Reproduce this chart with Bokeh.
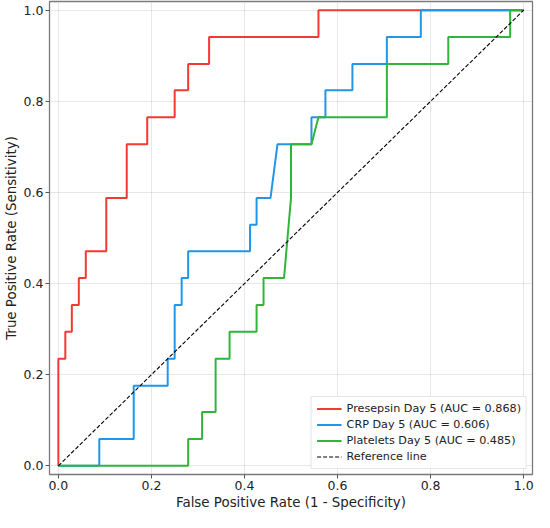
from bokeh.plotting import figure
from bokeh.models import Legend, LegendItem, FixedTicker, Range1d
from bokeh.embed import file_html
from bokeh.resources import INLINE

# ---- data ----
presepsin_fpr = [0, 0, 0.015, 0.015, 0.029, 0.029, 0.044, 0.044, 0.059, 0.059, 0.103, 0.103,
                 0.147, 0.147, 0.191, 0.191, 0.25, 0.25, 0.279, 0.279, 0.324, 0.324, 0.559, 0.559, 1.0]
presepsin_tpr = [0, 0.235, 0.235, 0.294, 0.294, 0.353, 0.353, 0.412, 0.412, 0.471, 0.471, 0.588,
                 0.588, 0.706, 0.706, 0.765, 0.765, 0.824, 0.824, 0.882, 0.882, 0.941, 0.941, 1.0, 1.0]

crp_fpr = [0, 0.088, 0.088, 0.162, 0.162, 0.235, 0.235, 0.25, 0.25, 0.265, 0.265, 0.279, 0.279,
           0.412, 0.412, 0.426, 0.426, 0.456, 0.471, 0.544, 0.544, 0.574, 0.574, 0.632, 0.632,
           0.706, 0.706, 0.779, 0.779, 1.0]
crp_tpr = [0, 0, 0.059, 0.059, 0.176, 0.176, 0.235, 0.235, 0.353, 0.353, 0.412, 0.412, 0.471,
           0.471, 0.529, 0.529, 0.588, 0.588, 0.706, 0.706, 0.765, 0.765, 0.824, 0.824, 0.882,
           0.882, 0.941, 0.941, 1.0, 1.0]

platelets_fpr = [0, 0.279, 0.279, 0.309, 0.309, 0.338, 0.338, 0.368, 0.368, 0.426, 0.426, 0.441,
                 0.441, 0.485, 0.5, 0.5, 0.544, 0.559, 0.706, 0.706, 0.838, 0.838, 0.971, 0.971, 1.0]
platelets_tpr = [0, 0, 0.059, 0.059, 0.118, 0.118, 0.235, 0.235, 0.294, 0.294, 0.353, 0.353,
                 0.412, 0.412, 0.588, 0.706, 0.706, 0.765, 0.765, 0.882, 0.882, 0.941, 0.941, 1.0, 1.0]

reference_x = [0, 1]
reference_y = [0, 1]

series_labels = ["Presepsin Day 5 (AUC = 0.868)", "CRP Day 5 (AUC = 0.606)",
                 "Platelets Day 5 (AUC = 0.485)", "Reference line"]
tick_values = [0.0, 0.2, 0.4, 0.6, 0.8, 1.0]
tick_labels = {0.0: "0.0", 0.2: "0.2", 0.4: "0.4", 0.6: "0.6", 0.8: "0.8", 1.0: "1.0"}

FONT = "DejaVu Sans"

p = figure(width=534, height=512, output_backend="svg", toolbar_location=None,
           x_range=Range1d(-0.019, 1.019), y_range=Range1d(-0.019, 1.019),
           min_border_left=0, min_border_right=2, min_border_top=1, min_border_bottom=0)

p.outline_line_color = "#7a7a7a"
p.outline_line_width = 1.3
p.background_fill_color = "white"
p.border_fill_color = "white"

for ax in (p.xaxis[0], p.yaxis[0]):
    ax.ticker = FixedTicker(ticks=tick_values)
    ax.major_label_overrides = tick_labels
    ax.minor_tick_line_color = None
    ax.axis_line_color = None
    ax.major_tick_line_color = "#555555"
    ax.major_tick_out = 4
    ax.major_tick_in = 0
    ax.major_label_text_font = FONT
    ax.major_label_text_font_size = "12.5px"
    ax.major_label_text_color = "#222222"
    ax.axis_label_text_font = FONT
    ax.axis_label_text_font_size = "13.4px"
    ax.axis_label_text_font_style = "normal"
    ax.axis_label_text_color = "#222222"
    ax.major_label_standoff = 2
    ax.axis_label_standoff = 2

p.xaxis.axis_label = "False Positive Rate (1 - Specificity)"
p.yaxis.axis_label = "True Positive Rate (Sensitivity)"

p.grid.grid_line_color = "#b0b0b0"
p.grid.grid_line_alpha = 0.3
p.xgrid.ticker = FixedTicker(ticks=tick_values)
p.ygrid.ticker = FixedTicker(ticks=tick_values)

r1 = p.line(presepsin_fpr, presepsin_tpr, line_color="#f23a32", line_width=2)
r2 = p.line(crp_fpr, crp_tpr, line_color="#2196e8", line_width=2)
r3 = p.line(platelets_fpr, platelets_tpr, line_color="#2fb53a", line_width=2)
r4 = p.line(reference_x, reference_y, line_color="black", line_width=1.1, line_dash="4 2")

legend = Legend(items=[LegendItem(label=series_labels[0], renderers=[r1]),
                       LegendItem(label=series_labels[1], renderers=[r2]),
                       LegendItem(label=series_labels[2], renderers=[r3]),
                       LegendItem(label=series_labels[3], renderers=[r4])],
                location="bottom_right")
legend.label_text_font = FONT
legend.label_text_font_size = "11.2px"
legend.label_text_color = "#222222"
legend.label_height = 13
legend.glyph_height = 13
legend.glyph_width = 25
legend.spacing = 3
legend.padding = 5
legend.margin = 5
legend.border_line_color = "#cccccc"
legend.border_line_width = 1
legend.background_fill_alpha = 0.9
p.add_layout(legend)

open("out.html", "w").write(file_html(p, INLINE))
